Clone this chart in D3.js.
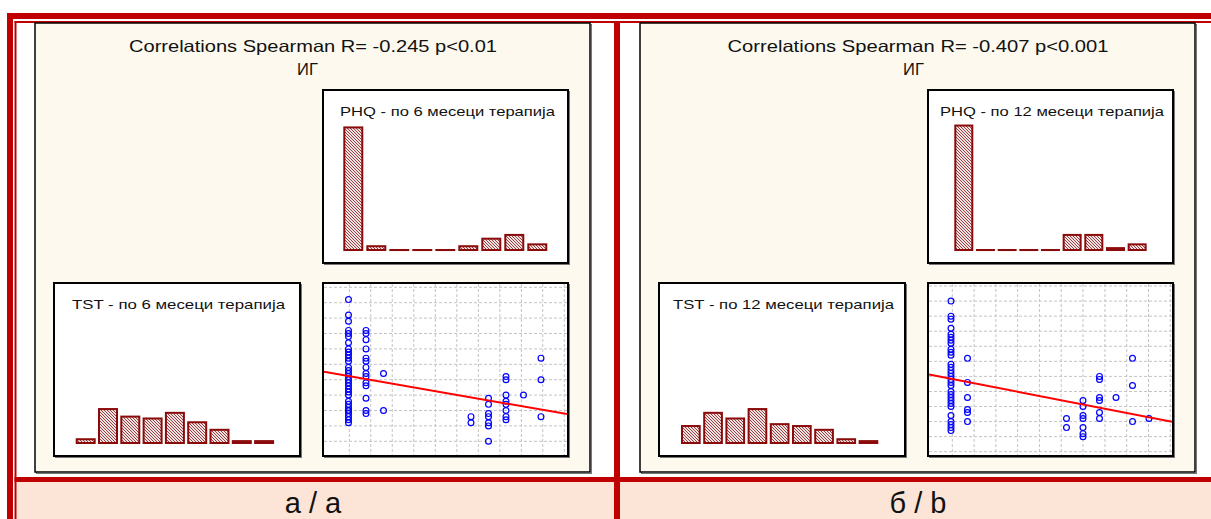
<!DOCTYPE html>
<html><head><meta charset="utf-8">
<script src="https://cdn.jsdelivr.net/npm/d3@7"></script>
<style>body{margin:0;background:#fff}svg{display:block}</style>
</head><body>
<svg id="c" width="1211" height="519"></svg>
<script>
// ---------------- data ----------------
const binLabels = ["1","2","3","4","5","6","7","8","9"];
const phq6Counts  = [65, 2, 0, 0, 0, 2, 6, 8, 3];
const tst6Counts  = [2, 18, 14, 13, 16, 11, 7, 1, 1];
const phq12Counts = [66, 0, 0, 0, 0, 8, 8, 1, 3];
const tst12Counts = [9, 16, 13, 18, 10, 9, 7, 2, 1];

// scatter: x = PHQ, y = TST (6 months)
const sc6X = [
  0,0,0,0,0,0,0,0,0,0,0,0,0,0,0,0,0,0,0,0,0,0,0,0,0,0,0,0,0,0,0,
  1,1,1,1,1,1,1,1,1,1,1,1,1,1,
  2,2,
  7,7,
  8,8,8,8,8,8,8,
  9,9,9,9,9,9,9,9,
  10,
  11,11,11];
const sc6Y = [
  46,41,39,36,35,34,32,30,29,28,27,26,24,23,22,21,20,19,18,17,16,15,13,12,11,10,10,9,8,7,6,
  36,35,33,30,27,26,24,22,21,19,18,14,10,9,
  22,10,
  8,6,
  14,12,9,8,6,5,0,
  21,20,15,13,12,10,8,7,
  15,
  27,20,8];
// scatter (12 months)
const sc12X = [
  0,0,0,0,0,0,0,0,0,0,0,0,0,0,0,0,0,0,0,0,0,0,0,0,0,0,0,0,0,0,
  1,1,1,1,1,1,
  7,7,
  8,8,8,8,8,8,8,
  9,9,9,9,9,9,
  10,
  11,11,11,
  12];
const sc12Y = [
  50,45,44,41,39,38,37,36,34,33,32,29,28,27,26,25,24,23,22,20,19,18,17,16,15,12,10,9,8,7,
  31,23,18,14,13,10,
  11,8,
  17,15,12,11,8,6,5,
  25,24,18,17,13,11,
  18,
  31,22,10,
  11];
// regression lines: [intercept, slope]
const fit6 = [21.2, -0.99];
const fit12 = [24.2, -1.064];
// grid (major tick) positions in data units
const grid6X = [0.05,1.27,2.5,3.73,4.96,6.19,7.42,8.65,9.88,11.1,12.33];
const grid6Y = [0,5,10,15,20,25,30,35,40,45,50];
const grid12X = [0.08,1.4,2.72,4.04,5.36,6.68,8.0,9.33,10.65,11.97,13.29];
const grid12Y = [0,5,10,15,20,25,30,35,40,45,50,55];

const titles = ["Correlations Spearman R= -0.245 p<0.01", "Correlations Spearman R= -0.407 p<0.001"];
const groupLabel = "ИГ";
const phqTitles = ["PHQ - по 6 месеци терапија", "PHQ - по 12 месеци терапија"];
const tstTitles = ["TST - по 6 месеци терапија", "TST - по 12 месеци терапија"];
const captions = ["а / a", "б / b"];

// ---------------- drawing ----------------
const svg = d3.select("#c");
const RED = "#c00000", BAR = "#8b0a0a", FONT = "'Liberation Sans', Arial, sans-serif";

const defs = svg.append("defs");
const pat = defs.append("pattern").attr("id","hatch").attr("patternUnits","userSpaceOnUse")
  .attr("width",3).attr("height",3);
pat.append("rect").attr("width",3).attr("height",3).attr("fill","#f0e2e2");
pat.append("path").attr("d","M-1,-1 L4,4 M-1,2 L1,4 M2,-1 L4,1")
  .attr("stroke","#8a3030").attr("stroke-width",0.9);

// table frame
svg.append("rect").attr("x",0).attr("y",0).attr("width",1211).attr("height",519).attr("fill","#fff");
svg.append("rect").attr("x",16).attr("y",482).attr("width",1195).attr("height",37).attr("fill","#fce4d6");
const frame = [
  [7,13,1204,6],[14.5,21,1197,2],[7,13,6,506],[14.5,21,2,498],
  [14.5,477,1197,5],[614,21,6,498]
];
svg.selectAll("rect.frame").data(frame).join("rect").attr("class","frame")
  .attr("x",d=>d[0]).attr("y",d=>d[1]).attr("width",d=>d[2]).attr("height",d=>d[3]).attr("fill",RED);

function box(x, y, w, h, fill, sw){
  svg.append("rect").attr("x",x+1.5).attr("y",y+1.5).attr("width",w).attr("height",h)
    .attr("fill","none").attr("stroke","#777").attr("stroke-width",1);
  svg.append("rect").attr("x",x).attr("y",y).attr("width",w).attr("height",h)
    .attr("fill",fill).attr("stroke","#000").attr("stroke-width",sw);
}

function hist(counts, x0, step, bw, base){
  const gap = step - bw;
  const band = d3.scaleBand().domain(binLabels)
    .range([x0 - gap/2, x0 - gap/2 + counts.length*step])
    .paddingInner(gap/step).paddingOuter(gap/(2*step));
  const y = d3.scaleLinear().domain([0,70]).range([base, base-132]);
  svg.append("g").selectAll("rect").data(counts).join("rect")
    .attr("x",(d,i)=>band(binLabels[i])+1)
    .attr("width",band.bandwidth()-2)
    .attr("y",d=>y(d))
    .attr("height",d=>Math.max(base-y(d),0.05))
    .attr("fill","url(#hatch)").attr("stroke",BAR).attr("stroke-width",2);
}

function scatter(id, X, Y, fit, gx, gy, xr, xd, yr, yd){
  const x = d3.scaleLinear().domain(xd).range(xr);
  const y = d3.scaleLinear().domain(yd).range(yr);
  const clip = defs.append("clipPath").attr("id",id);
  clip.append("rect").attr("x",xr[0]).attr("y",yr[1]).attr("width",xr[1]-xr[0]).attr("height",yr[0]-yr[1]);
  const g = svg.append("g").attr("clip-path",`url(#${id})`);
  g.selectAll("line.gx").data(gx).join("line").attr("class","gx")
    .attr("x1",d=>x(d)).attr("x2",d=>x(d)).attr("y1",yr[1]).attr("y2",yr[0])
    .attr("stroke","#c4c4c4").attr("stroke-dasharray","3,2");
  g.selectAll("line.gy").data(gy).join("line").attr("class","gy")
    .attr("y1",d=>y(d)).attr("y2",d=>y(d)).attr("x1",xr[0]).attr("x2",xr[1])
    .attr("stroke","#c4c4c4").attr("stroke-dasharray","3,2");
  g.selectAll("circle").data(X).join("circle")
    .attr("cx",d=>x(d)).attr("cy",(d,i)=>y(Y[i])).attr("r",2.9)
    .attr("fill","none").attr("stroke","#0000ff").attr("stroke-width",1.2);
  g.append("line")
    .attr("x1",x(xd[0])).attr("y1",y(fit[0]+fit[1]*xd[0]))
    .attr("x2",x(xd[1])).attr("y2",y(fit[0]+fit[1]*xd[1]))
    .attr("stroke","#ff0000").attr("stroke-width",2);
}

function label(txt, cx, y, size, len){
  const t = svg.append("text").attr("x",cx).attr("y",y).attr("text-anchor","middle")
    .attr("font-family",FONT).attr("font-size",size).attr("fill","#111").text(txt);
  if (len) t.attr("textLength",len).attr("lengthAdjust","spacingAndGlyphs");
}

const panels = [
  {dx:0, title:titles[0], tcx:313, tlen:368, gcx:307.5, phq:phqTitles[0], phqCx:447.5, phqLen:215,
   tst:tstTitles[0], tstCx:178.5, tstLen:213, cap:captions[0], capCx:313,
   phqC:phq6Counts, phqX0:343.3, phqStep:23, phqBw:20,
   tstC:tst6Counts, tstX0:75.7, tstStep:22.3, tstBw:20},
  {dx:605, title:titles[1], tcx:918, tlen:381, gcx:913.5, phq:phqTitles[1], phqCx:1052, phqLen:224,
   tst:tstTitles[1], tstCx:783.5, tstLen:221, cap:captions[1], capCx:918,
   phqC:phq12Counts, phqX0:954.3, phqStep:21.67, phqBw:19,
   tstC:tst12Counts, tstX0:681, tstStep:22.2, tstBw:19.7}
];

panels.forEach(p=>{
  const d = p.dx;
  box(35+d, 23, 555, 449, "#fdf9ee", 1.5);
  box(323+d, 90, 245, 173, "#fff", 2);
  box(323+d, 283, 245, 173, "#fff", 2);
  box(54+d, 283, 246, 173, "#fff", 2);
  label(p.title, p.tcx, 52, 16.5, p.tlen);
  label(groupLabel, p.gcx, 75, 16.5);
  label(p.phq, p.phqCx, 115.5, 13.5, p.phqLen);
  label(p.tst, p.tstCx, 309.3, 13.5, p.tstLen);
  label(p.cap, p.capCx, 513, 29);
  hist(p.phqC, p.phqX0, p.phqStep, p.phqBw, 250);
  hist(p.tstC, p.tstX0, p.tstStep, p.tstBw, 443);
});

scatter("cl6", sc6X, sc6Y, fit6, grid6X, grid6Y, [324,567], [-1.4,12.486], [455,284], [(441.3-455)/3.08,(441.3-284)/3.08]);
scatter("cl12", sc12X, sc12Y, fit12, grid12X, grid12Y, [929,1172], [-1.333,13.394], [455,284], [(451.7-455)/3.012,(451.7-284)/3.012]);
</script>
</body></html>
